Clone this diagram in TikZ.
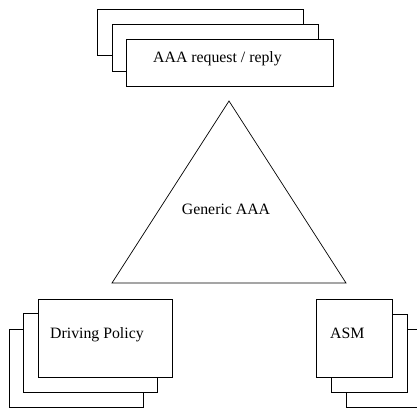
\documentclass[tikz,border=0pt]{standalone}
\usepackage{fontspec}
\setmainfont{Liberation Serif}
\begin{document}
\begin{tikzpicture}[x=1pt,y=-1pt,
  card/.style={draw=black, fill=white, line width=0.7pt, inner sep=0pt,
               anchor=north west, minimum width=#1},
  label/.style={anchor=base west, inner sep=0pt,
                font=\fontsize{15.8}{18}\selectfont}]
\useasboundingbox (0,0) rectangle (417,411);
\clip (0,0) rectangle (417,411);

% stacked cards: AAA request / reply
\node[card=206pt, minimum height=46pt] (req3) at (97,9) {};
\node[card=206pt, minimum height=47pt] (req2) at (112,24) {};
\node[card=207pt, minimum height=47pt] (req1) at (126,39) {};
\node[label] (reqtxt) at (153,63) {AAA request / reply};

% Generic AAA triangle
\coordinate (apex) at (229,101);
\coordinate (bl) at (112,283);
\coordinate (br) at (346,283);
\draw[line width=0.7pt, line join=miter] (apex) -- (bl) -- (br) -- cycle;
\node[label, anchor=base] (gentxt) at (226,215) {Generic AAA};

% stacked cards: Driving Policy
\node[card=134pt, minimum height=78pt] (dp3) at (9,329) {};
\node[card=134pt, minimum height=79pt] (dp2) at (23,313) {};
\node[card=134pt, minimum height=78pt] (dp1) at (38,299) {};
\node[label] (dptxt) at (50,338) {Driving Policy};

% stacked cards: ASM
\node[card=76pt, minimum height=78pt] (asm3) at (346,329) {};
\node[card=76pt, minimum height=78pt] (asm2) at (331,314) {};
\node[card=76pt, minimum height=78pt] (asm1) at (316,299) {};
\node[label] (asmtxt) at (330,338) {ASM};
\end{tikzpicture}
\end{document}
